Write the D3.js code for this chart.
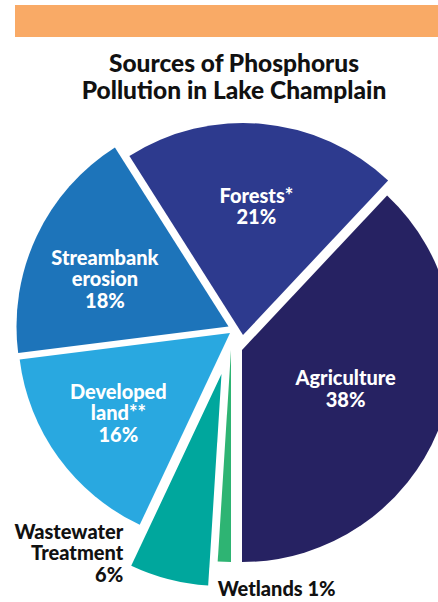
<!DOCTYPE html>
<html>
<head>
<meta charset="utf-8">
<script src="https://cdn.jsdelivr.net/npm/d3@7"></script>
<style>
  html, body { margin: 0; padding: 0; background: #fff; }
  svg { display: block; font-family: Lato, "Open Sans", sans-serif; }
</style>
</head>
<body>
<svg id="chart"></svg>
<script>
// Data
const categories = ["Agriculture", "Wetlands", "Wastewater Treatment", "Developed land**", "Streambank erosion", "Forests*"];
const shares = [38, 1, 6, 16, 18, 21];
const labelLines = [["Agriculture"], ["Wetlands"], ["Wastewater", "Treatment"], ["Developed", "land**"], ["Streambank", "erosion"], ["Forests*"]];
const titleLines = ["Sources of Phosphorus", "Pollution in Lake Champlain"];

// Styles
const COLORS = {
    "Agriculture": "#262262",
    "Wetlands": "#2eb473",
    "Wastewater Treatment": "#00a79d",
    "Developed land**": "#29a8e0",
    "Streambank erosion": "#1d74ba",
    "Forests*": "#2d3a8e",
};
// hand nudges of each slice away from the common centre
const EXPLODE = {
    "Agriculture": [6, 7],
    "Wetlands": [-5, 7],
    "Wastewater Treatment": [-14.5, 31],
    "Developed land**": [-6, -10],
    "Streambank erosion": [-7.5, -16.5],
    "Forests*": [7, -8],
};
// label placement inside a slice: radius, and degrees turned off the bisector
const LABEL_AT = {
    "Agriculture": [111, -0.6],
    "Developed land**": [138, 0],
    "Streambank erosion": [132, -4.6],
    "Forests*": [128, 0.6],
};

const width = 438, height = 602;
const cx = 236, cy = 343, R = 212;
const LABEL_SIZE = 20, LINE_H = 21.5;

const svg = d3.select('#chart')
    .attr('width', width)
    .attr('height', height);

// Orange banner
svg.append('rect')
    .attr('x', 15).attr('y', 5)
    .attr('width', width - 15).attr('height', 32)
    .attr('fill', '#f9aa66');

// Title
svg.append('text')
    .attr('text-anchor', 'middle')
    .attr('font-weight', 900)
    .attr('font-size', '24.5px')
    .attr('fill', '#111')
    .selectAll('tspan')
    .data(titleLines)
    .join('tspan')
    .attr('x', 234)
    .attr('y', (d, i) => 72 + i * 27)
    .text(d => d);

const total = d3.sum(shares);
const start = Math.PI - 2 * Math.PI * shares[0] / total;

const pie = d3.pie()
    .sort(null)
    .value(d => d.value)
    .startAngle(start)
    .endAngle(start + 2 * Math.PI);

const data = categories.map((c, i) => ({ name: c, value: shares[i], lines: labelLines[i] }));
const arcs = pie(data);

const arc = d3.arc().innerRadius(0).outerRadius(R);

const slices = svg.append('g')
    .attr('transform', `translate(${cx},${cy})`)
    .selectAll('g')
    .data(arcs)
    .join('g')
    .attr('transform', d => `translate(${EXPLODE[d.data.name][0]},${EXPLODE[d.data.name][1]})`);

slices.append('path')
    .attr('d', arc)
    .attr('fill', d => COLORS[d.data.name]);

// Inside labels
slices.filter(d => LABEL_AT[d.data.name])
    .append('text')
    .attr('text-anchor', 'middle')
    .attr('fill', '#fff')
    .attr('font-weight', 900)
    .attr('font-size', LABEL_SIZE + 'px')
    .each(function (d) {
        const [r, shift] = LABEL_AT[d.data.name];
        const a = (d.startAngle + d.endAngle) / 2 + shift * Math.PI / 180;
        const x = r * Math.sin(a), y = -r * Math.cos(a);
        const lines = d.data.lines.concat([d.data.value + '%']);
        const y0 = y - (lines.length - 1) * LINE_H / 2 + 6;
        d3.select(this).selectAll('tspan')
            .data(lines)
            .join('tspan')
            .attr('x', x)
            .attr('y', (t, i) => y0 + i * LINE_H)
            .text(t => t);
    });

// Outside labels, anchored at the outer corner of their slice
function corner(d, angle) {
    const off = EXPLODE[d.data.name];
    return [cx + off[0] + R * Math.sin(angle), cy + off[1] - R * Math.cos(angle)];
}

const ww = arcs[2];
const wwPt = corner(ww, ww.endAngle);
svg.append('text')
    .attr('text-anchor', 'end')
    .attr('font-weight', 900)
    .attr('font-size', LABEL_SIZE + 'px')
    .attr('fill', '#111')
    .selectAll('tspan')
    .data(ww.data.lines.concat([ww.data.value + '%']))
    .join('tspan')
    .attr('x', wwPt[0] - 8)
    .attr('y', (t, i) => wwPt[1] - 27 + i * LINE_H)
    .text(t => t);

const wl = arcs[1];
const wlPt = corner(wl, wl.endAngle);
svg.append('text')
    .attr('x', wlPt[0])
    .attr('y', wlPt[1] + 34)
    .attr('font-weight', 900)
    .attr('font-size', LABEL_SIZE + 'px')
    .attr('fill', '#111')
    .text(wl.data.lines[0] + ' ' + wl.data.value + '%');
</script>
</body>
</html>
